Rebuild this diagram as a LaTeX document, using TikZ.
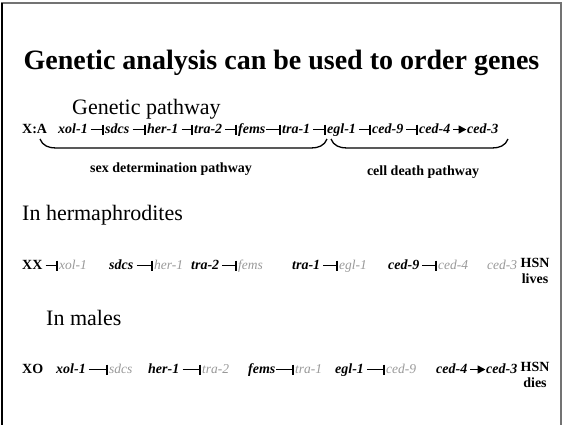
\documentclass[tikz,border=0pt]{standalone}
\usepackage{fontspec}
\setmainfont{Liberation Serif}
\usetikzlibrary{arrows.meta}
\definecolor{offgray}{gray}{0.6}
\definecolor{framegray}{gray}{0.45}
\begin{document}
\begin{tikzpicture}[x=1pt,y=1pt,
  gene/.style={font=\fontsize{14}{16}\selectfont\bfseries\itshape, anchor=base west, inner sep=0pt, text height=10pt, text depth=3pt},
  off/.style={font=\fontsize{13.5}{16}\selectfont\itshape, text=offgray, anchor=base west, inner sep=0pt, text height=10pt, text depth=3pt},
  sym/.style={font=\fontsize{14}{16}\selectfont\bfseries, anchor=base west, inner sep=0pt, text height=10pt, text depth=3pt},
  inh/.style={line width=1.6pt, -{Bar[width=10pt]}, shorten <=3pt, shorten >=1pt},
  act/.style={line width=1.6pt, -{Triangle[length=8pt,width=8pt]}, shorten <=3pt, shorten >=0.5pt},
  heading/.style={font=\fontsize{22}{26}\selectfont, anchor=base west, inner sep=0pt},
  brace/.style={line width=1.3pt},
  pathlabel/.style={font=\fontsize{14}{16}\selectfont\bfseries, anchor=base, inner sep=0pt},
  fate/.style={font=\fontsize{14}{16}\selectfont\bfseries, anchor=north, inner sep=0pt, align=center}]
\useasboundingbox (0,0) rectangle (563,-424);
% frame
\draw[line width=1.3pt, framegray] (2,-440) -- (2,-3) -- (561,-3) -- (561,-440);
\draw[line width=1.3pt, black] (2,-440) -- (2,-3);

% title and headings
\node[font=\fontsize{28}{32}\selectfont\bfseries, anchor=base, inner sep=0pt] (title) at (281.5,-69) {Genetic analysis can be used to order genes};
\node[heading] (hpath) at (72,-114) {Genetic pathway};
\node[heading] (hherm) at (22,-220) {In hermaphrodites};
\node[heading] (hmale) at (46,-325) {In males};

% row 1: genetic pathway
\node[sym]  (r1xa)   at (22,-133)  {X:A};
\node[gene] (r1xol)  at (58,-133)  {xol-1};
\node[gene] (r1sdc)  at (105,-133) {sdcs};
\node[gene] (r1her)  at (147,-133) {her-1};
\node[gene] (r1tra2) at (194,-133) {tra-2};
\node[gene] (r1fem)  at (238,-133) {fems};
\node[gene] (r1tra1) at (282,-133) {tra-1};
\node[gene] (r1egl)  at (327,-133) {egl-1};
\node[gene] (r1c9)   at (372,-133) {ced-9};
\node[gene] (r1c4)   at (419,-133) {ced-4};
\node[gene] (r1c3)   at (467,-133) {ced-3};
\draw[inh] (r1xol.east)  -- (r1sdc.west);
\draw[inh] (r1sdc.east)  -- (r1her.west);
\draw[inh] (r1her.east)  -- (r1tra2.west);
\draw[inh] (r1tra2.east) -- (r1fem.west);
\draw[inh, shorten <=0.5pt] (r1fem.east) -- (r1tra1.west);
\draw[inh] (r1tra1.east) -- (r1egl.west);
\draw[inh] (r1egl.east)  -- (r1c9.west);
\draw[inh] (r1c9.east)   -- (r1c4.west);
\draw[act] (r1c4.east)   -- (r1c3.west);

% braces
\coordinate (b1l) at (40,-139);
\coordinate (b1r) at (327,-139);
\coordinate (b2l) at (331,-139);
\coordinate (b2r) at (508,-139);
\draw[brace] (b1l) to[out=-70,in=180] ([xshift=16pt,yshift=-9pt]b1l) -- ([xshift=-16pt,yshift=-9pt]b1r) to[out=0,in=-110] (b1r);
\draw[brace] (b2l) to[out=-70,in=180] ([xshift=16pt,yshift=-9pt]b2l) -- ([xshift=-16pt,yshift=-9pt]b2r) to[out=0,in=-110] (b2r);
\node[pathlabel] (lsex)  at (171,-172) {sex determination pathway};
\node[pathlabel] (ldeath) at (423,-175) {cell death pathway};

% row 2: hermaphrodites
\node[sym]  (r2xx)   at (22,-269)  {XX};
\node[off]  (r2xol)  at (59,-269)  {xol-1};
\node[gene] (r2sdc)  at (109,-269) {sdcs};
\node[off]  (r2her)  at (154,-269) {her-1};
\node[gene] (r2tra2) at (191,-269) {tra-2};
\node[off]  (r2fem)  at (238,-269) {fems};
\node[gene] (r2tra1) at (292,-269) {tra-1};
\node[off]  (r2egl)  at (339,-269) {egl-1};
\node[gene] (r2c9)   at (388,-269) {ced-9};
\node[off]  (r2c4)   at (438,-269) {ced-4};
\node[off]  (r2c3)   at (487,-269) {ced-3};
\node[fate] (r2hsn)  at (535,-258) {HSN\\lives};
\draw[inh] (r2xx.east)   -- (r2xol.west);
\draw[inh] (r2sdc.east)  -- (r2her.west);
\draw[inh] (r2tra2.east) -- (r2fem.west);
\draw[inh] (r2tra1.east) -- (r2egl.west);
\draw[inh] (r2c9.east)   -- (r2c4.west);

% row 3: males
\node[sym]  (r3xo)   at (22,-373)  {XO};
\node[gene] (r3xol)  at (56,-373)  {xol-1};
\node[off]  (r3sdc)  at (109,-373) {sdcs};
\node[gene] (r3her)  at (148,-373) {her-1};
\node[off]  (r3tra2) at (202,-373) {tra-2};
\node[gene] (r3fem)  at (248,-373) {fems};
\node[off]  (r3tra1) at (295,-373) {tra-1};
\node[gene] (r3egl)  at (335,-373) {egl-1};
\node[off]  (r3c9)   at (386,-373) {ced-9};
\node[gene] (r3c4)   at (436,-373) {ced-4};
\node[gene] (r3c3)   at (486,-373) {ced-3};
\node[fate] (r3hsn)  at (535,-362) {HSN\\dies};
\draw[inh] (r3xol.east)  -- (r3sdc.west);
\draw[inh] (r3her.east)  -- (r3tra2.west);
\draw[inh, shorten <=0.5pt] (r3fem.east) -- (r3tra1.west);
\draw[inh] (r3egl.east)  -- (r3c9.west);
\draw[act] (r3c4.east)   -- (r3c3.west);
\end{tikzpicture}
\end{document}
